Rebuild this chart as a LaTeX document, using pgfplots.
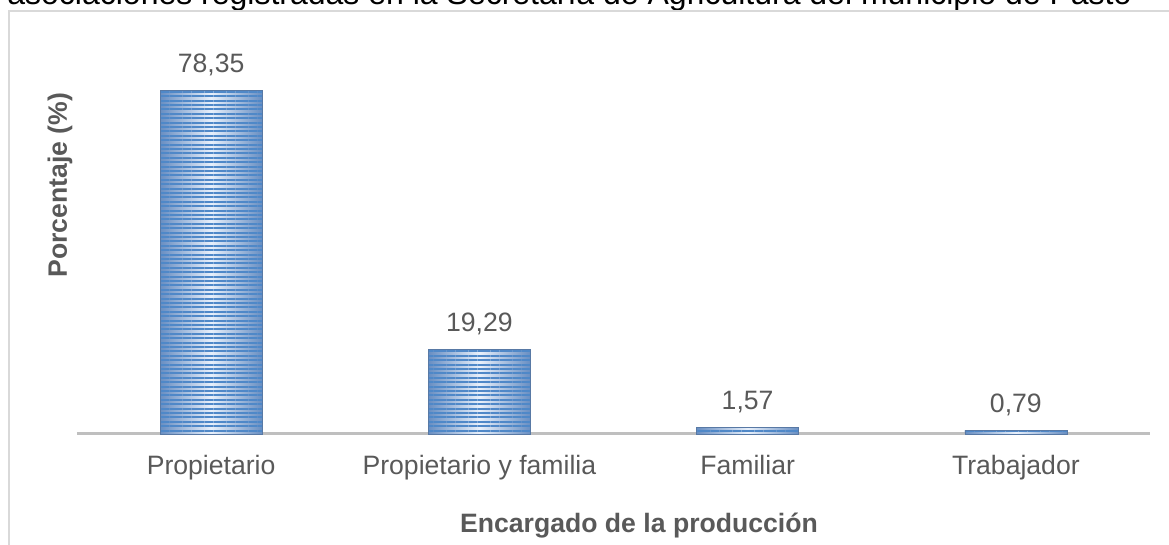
\documentclass[border=0pt]{standalone}
\usepackage{pgfplots}
\pgfplotsset{compat=1.18}
\usetikzlibrary{patterns.meta}
\usepackage{fontspec}
\setmainfont{Liberation Sans}

\definecolor{txt}{HTML}{595959}
\definecolor{framegray}{HTML}{D9D9D9}
\definecolor{basegray}{HTML}{BFBFBF}
\definecolor{stripe}{RGB}{79,136,200}
\definecolor{barEdge}{RGB}{104,142,194}
\definecolor{barMid}{RGB}{232,240,251}

% shaded body of one bar (darker at the sides, pale in the middle)
\pgfplotsset{barbody/.style={bar shift=0pt, draw=none, forget plot,
  left color=barEdge, right color=barEdge, middle color=barMid}}

\begin{document}
\begin{tikzpicture}
\useasboundingbox (0pt,0pt) rectangle (584.5pt,272.5pt);
\clip (0pt,0pt) rectangle (584.5pt,272.5pt);

% caption line running above the chart frame
\node[anchor=base west, inner sep=0pt, font=\fontsize{16}{19}\selectfont]
  at (3.5pt,270pt) {asociaciones registradas en la Secretaría de Agricultura del municipio de Pasto};

% chart frame
\draw[framegray, line width=0.9pt] (4.5pt,-5pt) -- (4.5pt,267pt) -- (600pt,267pt);

\begin{axis}[
  at={(38.5pt,55.5pt)}, anchor=south west,
  scale only axis, width=536.5pt, height=197.5pt,
  xmin=-0.5, xmax=3.5, ymin=0, ymax=90,
  axis y line=none,
  axis x line=bottom,
  x axis line style={-, draw=basegray, line width=1.5pt},
  xtick={0,1,2,3},
  xticklabels={Propietario, Propietario y familia, Familiar, Trabajador},
  major tick length=0pt,
  xtick style={draw=none},
  xticklabel style={anchor=base, yshift=-20.5pt, text=txt, font=\fontsize{13.3}{16}\selectfont},
  ybar, bar width=51pt,
  clip=false,
]
\addplot[barbody] coordinates {(0,78.35)};
\addplot[barbody] coordinates {(1,19.29)};
\addplot[barbody] coordinates {(2,1.57)};
\addplot[barbody] coordinates {(3,0.79)};

% horizontal stripes and value labels on top of the shaded bars
\addplot[
  bar shift=0pt,
  draw=barEdge!85!black, line width=0.3pt,
  pattern={Lines[angle=0, distance=2.2pt, line width=0.95pt]}, pattern color=stripe,
  point meta=y,
  nodes near coords={\pgfmathprintnumber[fixed, fixed zerofill, precision=2, use comma, assume math mode=true]{\pgfplotspointmeta}},
  every node near coord/.append style={anchor=base, yshift=9pt, text=txt, font=\fontsize{13.3}{16}\selectfont},
] coordinates {(0,78.35) (1,19.29) (2,1.57) (3,0.79)};
\end{axis}

\node[rotate=90, font=\bfseries\fontsize{13.3}{16}\selectfont, text=txt] at (30pt,180pt) {Porcentaje (\%)};
\node[anchor=base, font=\bfseries\fontsize{13.3}{16}\selectfont, text=txt] at (319.5pt,6pt) {Encargado de la producción};
\end{tikzpicture}
\end{document}
